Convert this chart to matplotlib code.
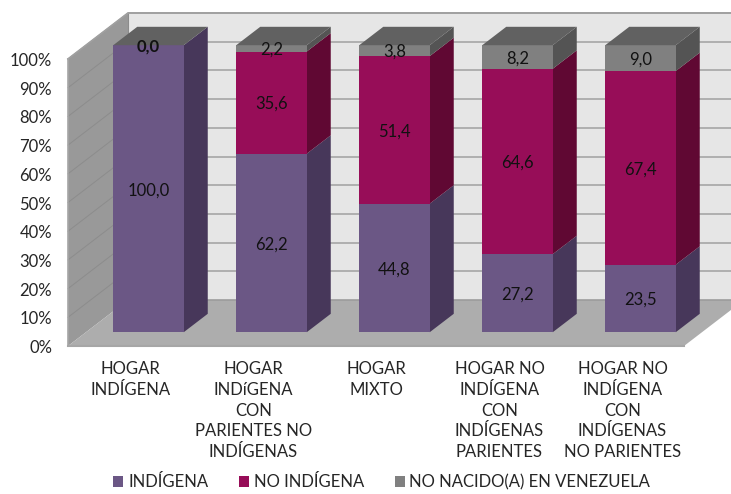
import numpy as np
import matplotlib
matplotlib.use('Agg')
import matplotlib.pyplot as plt
from matplotlib.patches import Patch

plt.rcParams['font.family'] = ['Lato', 'DejaVu Sans']

categories = [
    'HOGAR\nINDÍGENA',
    'HOGAR\nINDíGENA\nCON\nPARIENTES NO\nINDÍGENAS',
    'HOGAR\nMIXTO',
    'HOGAR NO\nINDÍGENA\nCON\nINDÍGENAS\nPARIENTES',
    'HOGAR NO\nINDÍGENA\nCON\nINDÍGENAS\nNO PARIENTES',
]
indigena = [100.0, 62.2, 44.8, 27.2, 23.5]
no_indigena = [0.0, 35.6, 51.4, 64.6, 67.4]
no_nacido = [0.0, 2.2, 3.8, 8.2, 9.0]
series_names = ['INDÍGENA', 'NO INDÍGENA', 'NO NACIDO(A) EN VENEZUELA']
yticks = list(range(0, 101, 10))

front_colors = ['#6b5785', '#970d58', '#808080']
side_colors = ['#47375a', '#600833', '#545454']
top_color = '#616161'
text_color = '#262626'

# fake 3d: depth d goes 0 (front of the box) to 1 (back wall)
YSCALE = 2.87
DX = 60 / 123
DY = 46 / YSCALE
BAR_D0, BAR_D1 = 0.30, 0.70
BAR_W = 70.5 / 123


def proj(x, y, d):
    return x + d * DX, y + d * DY


def face(ax, pts, color, z, ec='none', lw=0):
    xy = [proj(*p) for p in pts]
    ax.fill([p[0] for p in xy], [p[1] for p in xy], color=color, ec=ec, lw=lw, zorder=z)


fig = plt.figure(figsize=(7.31, 4.94), dpi=100)
ax = fig.add_axes([0, 0, 1, 1])
ax.set_xlim((0 - 130.5) / 123, (731 - 130.5) / 123)
ax.set_ylim((346 - 494) / YSCALE, 346 / YSCALE)
ax.axis('off')

x0, x1 = -0.508, 4.5

# walls and floor
face(ax, [(x0, 0, 1), (x1 + 1, 0, 1), (x1 + 1, 100, 1), (x0, 100, 1)], '#e6e6e6', 1)
face(ax, [(x0, 0, 0), (x0, 100, 0), (x0, 100, 1), (x0, 0, 1)], '#999999', 1)
face(ax, [(x0, 0, 0), (x1, 0, 0), (x1, 0, 1), (x1 + 1, 0, 1), (x0, 0, 1)], '#adadad', 2)

for t in yticks:
    xa, ya = proj(x0, t, 0)
    xb, yb = proj(x0, t, 1)
    xc, _ = proj(x1 + 1, t, 1)
    if t > 0:
        ax.plot([xb, xc], [yb, yb], color='#ababab', lw=1.3, zorder=1.5, solid_capstyle='butt')
        ax.plot([xa, xb], [ya, yb], color='#8c8c8c', lw=0.7, zorder=1.5)
    ax.text(xa - 16 / 123, ya - 0.7, f'{t}%', ha='right', va='center', fontsize=12, color=text_color)

# wall edges
xb, yb = proj(x0, 100, 1)
xa, ya = proj(x0, 100, 0)
xc, _ = proj(x1 + 1, 100, 1)
ax.plot([xa, xb, xc], [ya, yb, yb], color='#a0a0a0', lw=1.3, zorder=3)
ax.plot([xa, xa], [0, 100], color='#a6a6a6', lw=1.2, zorder=3)
ax.plot([xb, xb], [proj(x0, 0, 1)[1], yb], color='#8c8c8c', lw=0.8, zorder=1.6)
ax.plot([xa, x1], [0, 0], color='#a6a6a6', lw=1.5, zorder=3)
xf, yf = proj(x0, 0, 1)
ax.plot([xf, xc], [yf, yf], color='#9c9c9c', lw=1.2, zorder=2.5)

# bars
stack = np.array([indigena, no_indigena, no_nacido])
stack = stack / stack.sum(axis=0) * 100
positions = np.arange(len(categories))
bottoms = np.zeros(len(categories))
fx, fy = proj(0, 0, BAR_D0)
for s, values in enumerate(stack):
    ax.bar(positions + fx, values, BAR_W, bottom=bottoms + fy, color=front_colors[s],
           linewidth=0, zorder=5)
    for i, v in enumerate(values):
        r = positions[i] + BAR_W / 2
        b = bottoms[i]
        if v > 0:
            face(ax, [(r, b, BAR_D0), (r, b + v, BAR_D0), (r, b + v, BAR_D1), (r, b, BAR_D1)],
                 side_colors[s], 4)
    bottoms = bottoms + values

for i in positions:
    l = i - BAR_W / 2
    r = i + BAR_W / 2
    face(ax, [(l, 100, BAR_D0), (r, 100, BAR_D0), (r, 100, BAR_D1), (l, 100, BAR_D1)], top_color, 6)

# value labels, written with the decimal comma
for s, values in enumerate(stack):
    raw = [indigena, no_indigena, no_nacido][s]
    base = stack[:s].sum(axis=0)
    for i, v in enumerate(values):
        if s == 1 and raw[i] == 0:
            continue
        lx, ly = proj(i, base[i] + v / 2, BAR_D0)
        ax.text(lx, ly - 0.5, f'{raw[i]:.1f}'.replace('.', ','), ha='center', va='center',
                fontsize=12, color='#111111', zorder=8,
                fontweight='bold' if raw[i] == 0 else 'normal')

# category labels
for i, cat in enumerate(categories):
    ax.text(i, -5.3, cat, ha='center', va='top', fontsize=12, color=text_color,
            linespacing=1.36, zorder=8)

handles = [Patch(facecolor=c, edgecolor='none') for c in front_colors]
ax.legend(handles, series_names, ncol=3, frameon=False, loc='lower left',
          bbox_to_anchor=(110 / 731, 0.001), fontsize=12, labelcolor=text_color,
          handlelength=0.6, handleheight=0.6, handletextpad=0.28, columnspacing=1.85,
          borderpad=0.2, borderaxespad=0)

fig.savefig('out.png', dpi=100)
